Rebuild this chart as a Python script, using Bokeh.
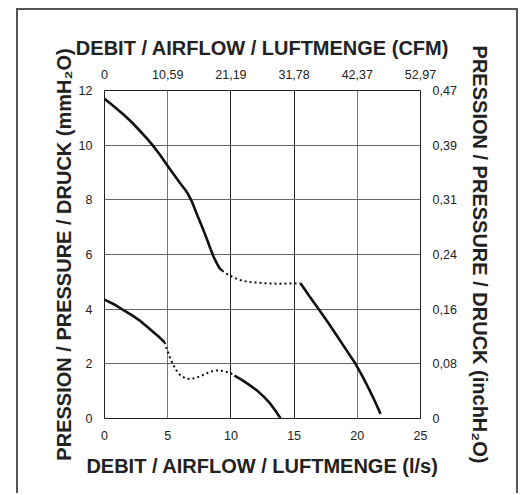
from bokeh.plotting import figure
from bokeh.models import LinearAxis, FixedTicker, Grid, Range1d
from bokeh.embed import file_html
from bokeh.resources import INLINE

# ---- data (x: l/s, y: mmH2O) ----
x_ticks = [0, 5, 10, 15, 20, 25]
y_ticks = [0, 2, 4, 6, 8, 10, 12]
cfm_labels = ["0", "10,59", "21,19", "31,78", "42,37", "52,97"]
inch_labels = ["0", "0,08", "0,16", "0,24", "0,31", "0,39", "0,47"]

hi_solid_a_x = [0, 0.8, 1.5, 2.2, 2.85, 3.4, 3.8, 4.4, 5.0, 5.5, 6.0, 6.4, 6.6, 6.85, 7.1,
                7.33, 7.6, 7.86, 8.15, 8.39, 8.65, 8.92, 9.1, 9.31]
hi_solid_a_y = [11.7, 11.4, 11.12, 10.82, 10.5, 10.22, 10.0, 9.64, 9.24, 8.92, 8.6, 8.36, 8.22, 8.0, 7.72,
                7.45, 7.15, 6.85, 6.5, 6.2, 5.9, 5.65, 5.5, 5.41]
hi_dot_x = [9.31, 9.7, 10.2, 10.7, 11.3, 12.1, 13.0, 14.0, 14.8, 15.5]
hi_dot_y = [5.41, 5.28, 5.16, 5.07, 5.0, 4.97, 4.94, 4.93, 4.94, 4.95]
hi_solid_b_x = [15.5, 15.85, 16.2, 16.95, 17.7, 18.4, 19.1, 19.86, 20.4, 20.9, 21.4, 21.84]
hi_solid_b_y = [4.95, 4.72, 4.48, 4.0, 3.5, 3.02, 2.53, 2.0, 1.55, 1.1, 0.62, 0.17]

lo_solid_a_x = [0, 0.7, 1.4, 2.1, 2.8, 3.4, 3.9, 4.35, 4.75]
lo_solid_a_y = [4.35, 4.19, 3.99, 3.8, 3.58, 3.35, 3.15, 2.97, 2.79]
lo_dot_x = [4.75, 5.0, 5.22, 5.45, 5.7, 6.0, 6.4, 6.8, 7.3, 7.86, 8.4, 8.9, 9.4, 9.97, 10.28]
lo_dot_y = [2.79, 2.45, 2.18, 1.95, 1.75, 1.58, 1.47, 1.44, 1.5, 1.6, 1.72, 1.76, 1.74, 1.66, 1.57]
lo_solid_b_x = [10.28, 10.8, 11.4, 12.08, 12.6, 13.1, 13.5, 13.92]
lo_solid_b_y = [1.57, 1.43, 1.25, 1.02, 0.8, 0.55, 0.3, 0.01]

FONT = "Liberation Sans"
TXT = "#222222"

p = figure(width=502, height=485, output_backend="svg", toolbar_location=None,
           x_range=Range1d(0, 25), y_range=Range1d(0, 12),
           min_border_left=86, min_border_right=100, min_border_top=80, min_border_bottom=77,
           x_axis_location=None, y_axis_location=None)
p.styles = {"margin-left": "16px", "margin-top": "8px",
            "border-left": "2px solid #555555", "border-right": "2px solid #555555",
            "border-top": "2px solid #555555"}
p.outline_line_color = "#222222"
p.outline_line_width = 1
p.background_fill_color = "white"
p.border_fill_color = "white"
p.xgrid.visible = False
p.ygrid.visible = False


def style_axis(ax, ticks, overrides):
    ax.ticker = FixedTicker(ticks=ticks)
    ax.major_label_overrides = {t: s for t, s in zip(ticks, overrides)}
    ax.axis_line_color = None
    ax.major_tick_line_color = None
    ax.minor_tick_line_color = None
    ax.major_tick_in = 0
    ax.major_tick_out = 0
    ax.major_label_text_font = FONT
    ax.major_label_text_font_size = "12.5px"
    ax.major_label_text_color = TXT
    ax.major_label_standoff = 12
    ax.axis_label_text_font = FONT
    ax.axis_label_text_font_style = "bold"
    ax.axis_label_text_font_size = "20px"
    ax.axis_label_text_color = TXT


bottom = LinearAxis(axis_label="DEBIT / AIRFLOW / LUFTMENGE (l/s)")
style_axis(bottom, x_ticks, [str(t) for t in x_ticks])
bottom.axis_label_standoff = 12
p.add_layout(bottom, "below")

top = LinearAxis(axis_label="DEBIT / AIRFLOW / LUFTMENGE (CFM)")
style_axis(top, x_ticks, cfm_labels)
top.axis_label_standoff = 8
p.add_layout(top, "above")

left = LinearAxis(axis_label="PRESSION / PRESSURE / DRUCK (mmH\u2082O)")
style_axis(left, y_ticks, [str(t) for t in y_ticks])
left.axis_label_standoff = 1
p.add_layout(left, "left")

right = LinearAxis(axis_label="PRESSION / PRESSURE / DRUCK (inchH\u2082O)")
style_axis(right, y_ticks, inch_labels)
right.axis_label_standoff = 9
p.add_layout(right, "right")

# gridlines
p.add_layout(Grid(dimension=0, ticker=FixedTicker(ticks=[5, 20]), grid_line_color="#777777", grid_line_width=1))
p.add_layout(Grid(dimension=0, ticker=FixedTicker(ticks=[10, 15]), grid_line_color="#222222", grid_line_width=1))
p.add_layout(Grid(dimension=1, ticker=FixedTicker(ticks=y_ticks[1:-1]), grid_line_color="#666666", grid_line_width=1))

LW = 2.6
for xs, ys in [(hi_solid_a_x, hi_solid_a_y), (hi_solid_b_x, hi_solid_b_y),
               (lo_solid_a_x, lo_solid_a_y), (lo_solid_b_x, lo_solid_b_y)]:
    p.line(xs, ys, line_color="#111111", line_width=LW, line_join="round")
for xs, ys in [(hi_dot_x, hi_dot_y), (lo_dot_x, lo_dot_y)]:
    p.line(xs, ys, line_color="#111111", line_width=2, line_dash="2 3")

open("out.html", "w").write(file_html(p, INLINE))
